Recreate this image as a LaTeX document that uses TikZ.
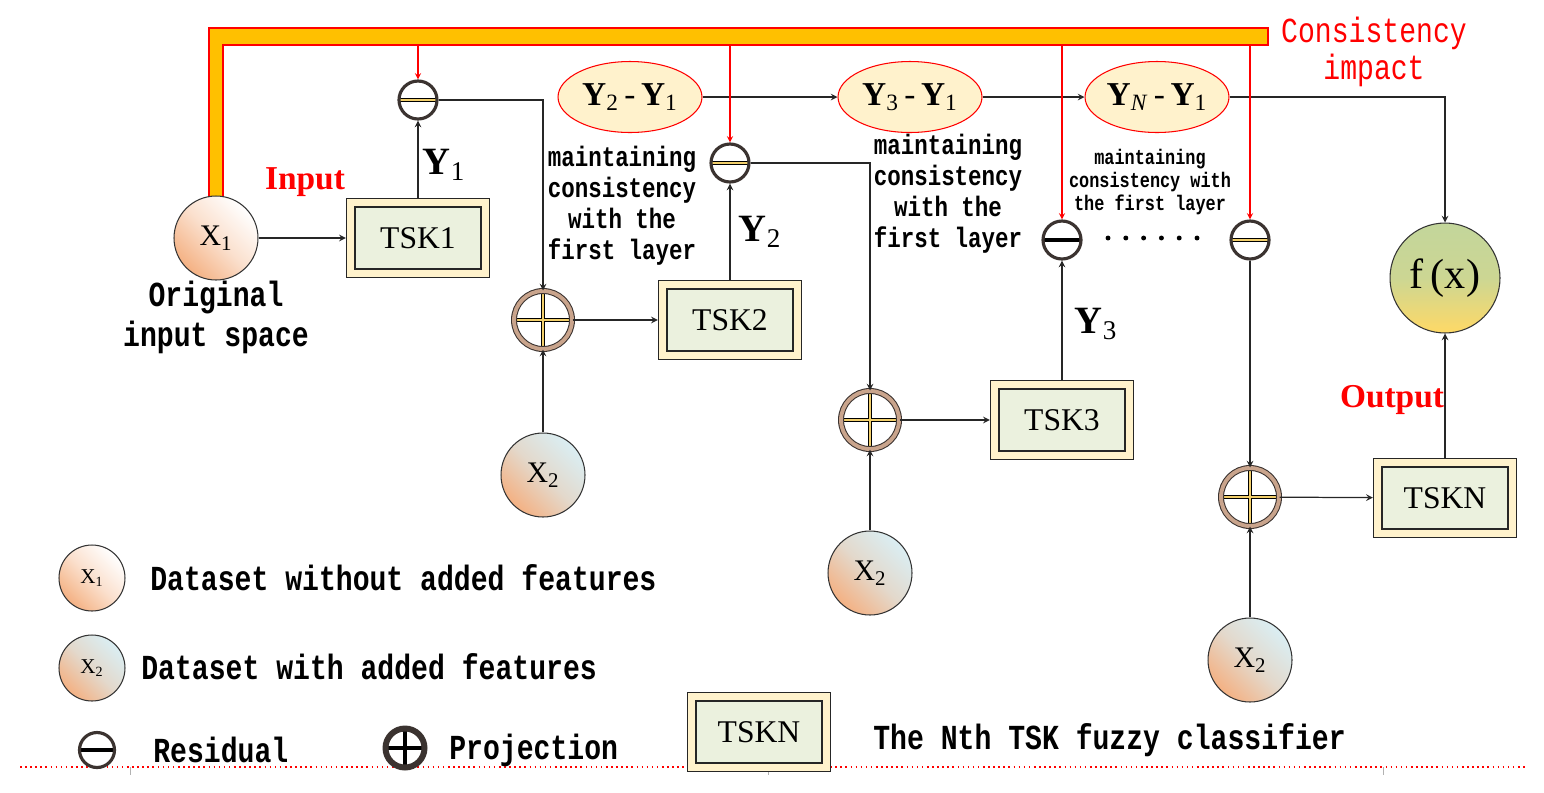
\documentclass[tikz,border=0pt]{standalone}
\usepackage{fontspec}
\setmainfont{Liberation Serif}
\newfontfamily\monofont[FakeStretch=0.8]{Liberation Mono}
\usetikzlibrary{shapes.geometric, calc}

\definecolor{barorange}{HTML}{FFC000}
\definecolor{tskcream}{HTML}{FFF2CC}
\definecolor{tskgreen}{HTML}{EBF1DE}
\definecolor{xorange}{HTML}{F4B183}
\definecolor{xblue}{HTML}{DAEEF3}
\definecolor{fxgreen}{HTML}{C3D69B}
\definecolor{fxyellow}{HTML}{FFD966}
\definecolor{ringdark}{HTML}{3B3330}
\definecolor{ringbrown}{HTML}{C9A48C}
\definecolor{baryellow}{HTML}{F2CF6B}

\begin{document}
\begin{tikzpicture}[
  x=0.02cm, y=-0.02cm,
  bar color/.initial=baryellow,
  tskbox/.style={rectangle, draw=black!85, line width=0.8pt, fill=tskcream,
                 minimum width=2.86cm, minimum height=1.58cm,
                 font=\fontsize{18}{20}\selectfont,
                 path picture={\draw[black!85, line width=0.8pt, fill=tskgreen]
                   ([shift={(0.17cm,0.17cm)}]path picture bounding box.south west) rectangle
                   ([shift={(-0.17cm,-0.17cm)}]path picture bounding box.north east);}},
  resid/.style={circle, minimum size=0.76cm, inner sep=0pt, draw=ringdark,
                line width=1.8pt, fill=white,
                path picture={\draw[black, line width=0.5pt,
                   double=\pgfkeysvalueof{/tikz/bar color}, double distance=1.3pt]
                   (path picture bounding box.west) -- (path picture bounding box.east);}},
  proj/.style={circle, minimum size=1.16cm, inner sep=0pt, draw=ringdark,
               line width=0.6pt, double=ringbrown, double distance=2.2pt, fill=white,
               path picture={\draw[black, line width=0.5pt,
                   double=\pgfkeysvalueof{/tikz/bar color}, double distance=1.6pt]
                   (path picture bounding box.west) -- (path picture bounding box.east)
                   (path picture bounding box.north) -- (path picture bounding box.south);}},
  xone/.style={circle, minimum size=1.68cm, inner sep=0pt, draw=black!80, line width=0.6pt,
               bottom color=xorange, top color=white, middle color=xorange!40!white,
               shading angle=-45, font=\fontsize{17}{18}\selectfont},
  xtwo/.style={xone, bottom color=xorange, top color=xblue, middle color=xorange!35!xblue,
               shading angle=-45},
  fxnode/.style={circle, minimum size=2.2cm, inner sep=0pt, draw=black!80, line width=0.6pt,
                 top color=fxgreen, bottom color=fxyellow, middle color=fxgreen!85!fxyellow,
                 font=\fontsize{24}{26}\selectfont},
  diffell/.style={ellipse, draw=red, line width=0.6pt, fill=tskcream,
                  minimum width=2.88cm, minimum height=1.42cm, inner sep=0pt,
                  font=\fontsize{19}{21}\selectfont},
  ylab/.style={font=\fontsize{22}{24}\selectfont},
  redlab/.style={text=red, font=\bfseries\fontsize{19}{21}\selectfont},
  monotxt/.style={align=center, inner sep=0pt, font=\monofont\bfseries\fontsize{16}{17.6}\selectfont},
  smalltxt/.style={align=center, inner sep=0pt, font=\monofont\bfseries\fontsize{12}{13.3}\selectfont},
  legtxt/.style={anchor=west, inner sep=0pt, font=\monofont\bfseries\fontsize{20}{22}\selectfont},
  arrow/.style={->, >=stealth, line width=0.7pt, black!85},
  redarrow/.style={->, >=stealth, line width=0.6pt, red}
]
\useasboundingbox (0,0) rectangle (1544,792);

% Consistency bar
\draw[red, line width=0.6pt, fill=barorange]
  (209,28) -- (1268,28) -- (1268,45) -- (223,45) -- (223,199) -- (209,199) -- cycle;
\coordinate (barlow) at (0,45);
\node[monotxt, text=red, font=\monofont\fontsize{20}{21.5}\selectfont] at (1374,52) (impact) {Consistency\\impact};

% Page line of the source
\draw[red, dotted, line width=0.9pt] (20,767) -- (1525,767);
\draw[gray!60, line width=0.5pt] (130,767) -- (130,775) (768,767) -- (768,775) (1383,767) -- (1383,775);

% Layer 1
\node[xone] at (216,238) (xa) {X\textsubscript{1}};
\node[tskbox] at (418,238) (tsk1) {TSK1};
\node[resid] at (418,100) (res1) {};
\node[ylab] at (444,165) (y1) {\textbf{Y}\textsubscript{1}};
\node[redlab] at (305,182) (input) {Input};
\node[monotxt, font=\monofont\bfseries\fontsize{20}{22.7}\selectfont] at (216,317) (orig) {Original\\input space};

% Layer 2
\node[proj] at (543,320) (pr1) {};
\node[xtwo] at (543,475) (xb) {X\textsubscript{2}};
\node[tskbox] at (730,320) (tsk2) {TSK2};
\node[resid] at (730,163) (res2) {};
\node[ylab] at (760,232) (y2) {\textbf{Y}\textsubscript{2}};
\node[monotxt] at (622,206) (keep1) {maintaining\\consistency\\with the\\first layer};

% Layer 3
\node[proj] at (870,420) (pr2) {};
\node[xtwo] at (870,573) (xc) {X\textsubscript{2}};
\node[tskbox] at (1062,420) (tsk3) {TSK3};
\node[resid, bar color=black] at (1062,240) (res3) {};
\node[ylab] at (1096,324) (y3) {\textbf{Y}\textsubscript{3}};
\node[monotxt] at (948,194) (keep2) {maintaining\\consistency\\with the\\first layer};

% Layer N
\node[resid] at (1250,240) (res4) {};
\node[proj] at (1250,497) (pr3) {};
\node[xtwo] at (1250,660) (xd) {X\textsubscript{2}};
\node[tskbox] at (1445,498) (tskn) {TSKN};
\node[fxnode] at (1445,278) (fx) {f\,(x)};
\node[redlab] at (1392,400) (output) {Output};
\node[smalltxt] at (1150,182) (keep3) {maintaining\\consistency with\\the first layer};
\foreach \i in {0,...,5} \fill (1108+\i*17.8,238) circle (1.4pt);

% Differences
\node[diffell] at (630,97) (d21) {\textbf{Y}\textsubscript{2}\,-\,\textbf{Y}\textsubscript{1}};
\node[diffell] at (910,97) (d31) {\textbf{Y}\textsubscript{3}\,-\,\textbf{Y}\textsubscript{1}};
\node[diffell] at (1157,97) (dn1) {\textbf{Y}\textsubscript{\textit{N}}\,-\,\textbf{Y}\textsubscript{1}};

% Arrows
\draw[arrow] (xa) -- (tsk1);
\draw[arrow] (tsk1) -- (res1);
\draw[arrow] (res1.east) -| (pr1.north);
\draw[arrow] (xb) -- (pr1);
\draw[arrow] (pr1) -- (tsk2);
\draw[arrow] (tsk2) -- (res2);
\draw[arrow] (res2.east) -| (pr2.north);
\draw[arrow] (xc) -- (pr2);
\draw[arrow] (pr2) -- (tsk3);
\draw[arrow] (tsk3) -- (res3);
\draw[arrow] (res4) -- (pr3);
\draw[arrow] (xd) -- (pr3);
\draw[arrow] (pr3) -- (tskn);
\draw[arrow] (tskn) -- (fx);
\draw[arrow] (d21) -- (d31);
\draw[arrow] (d31) -- (dn1);
\draw[arrow] (dn1.east) -| (fx.north);

% Consistency impact arrows
\draw[redarrow] (res1.north |- barlow) -- (res1.north);
\draw[redarrow] (res2.north |- barlow) -- (res2.north);
\draw[redarrow] (res3.north |- barlow) -- (res3.north);
\draw[redarrow] (res4.north |- barlow) -- (res4.north);

% Legend
\node[xone, minimum size=1.32cm, font=\fontsize{12}{13}\selectfont] at (92,578) (lgx1) {X\textsubscript{1}};
\node[legtxt] at (150,578) (lgt1) {Dataset without added features};
\node[xtwo, minimum size=1.32cm, font=\fontsize{12}{13}\selectfont] at (92,668) (lgx2) {X\textsubscript{2}};
\node[legtxt] at (141,667) (lgt2) {Dataset with added features};
\node[resid, bar color=black, minimum size=0.7cm] at (97,750) (lgres) {};
\node[legtxt] at (153,750) (lgt3) {Residual};
\node[proj, bar color=black, double=ringdark, minimum size=0.78cm] at (405,748) (lgproj) {};
\node[legtxt] at (449,750) (lgt4) {Projection};
\node[tskbox] at (759,732) (lgtsk) {TSKN};
\node[legtxt] at (873,740) (lgt5) {The Nth TSK fuzzy classifier};
\end{tikzpicture}
\end{document}
